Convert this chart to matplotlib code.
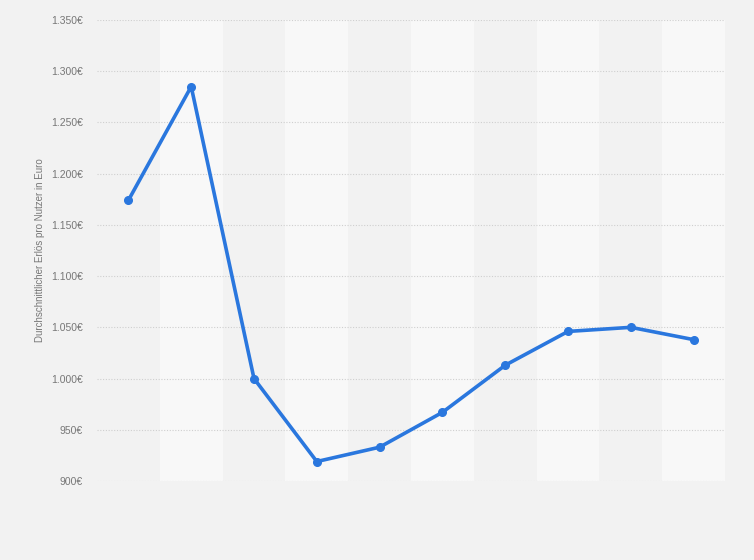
import matplotlib
matplotlib.use("Agg")
import matplotlib.pyplot as plt
from matplotlib.ticker import FuncFormatter

plt.rcParams["font.family"] = ["Liberation Sans", "DejaVu Sans"]

# durchschnittlicher Erlös pro Nutzer (keine x-Beschriftung im Original)
werte = [1174, 1285, 1000, 919, 933, 967, 1013, 1046, 1050, 1038]
y_ticks = [900, 950, 1000, 1050, 1100, 1150, 1200, 1250, 1300, 1350]
y_label = "Durchschnittlicher Erlös pro Nutzer in Euro"

fig = plt.figure(figsize=(7.54, 5.60), dpi=100)
fig.patch.set_facecolor("#f2f2f2")
ax = fig.add_axes([97 / 754, 79 / 560, 628 / 754, 461 / 560])
ax.set_facecolor("#f2f2f2")

n = len(werte)
xs = list(range(n))
for i in xs:
    if i % 2 == 1:
        ax.axvspan(i - 0.5, i + 0.5, color="#f8f8f8", zorder=0, lw=0)

for t in y_ticks:
    ax.axhline(t, color="#cfcfcf", lw=0.8, ls=(0, (1, 1.5)), zorder=1)

ax.plot(xs, werte, color="#2a77de", lw=2.6, marker="o", markersize=5.5,
        solid_joinstyle="round", zorder=3)

ax.set_xlim(-0.5, n - 0.5)
ax.set_ylim(900, 1350)
ax.set_yticks(y_ticks)
ax.yaxis.set_major_formatter(FuncFormatter(lambda v, p: f"{int(v):,}€".replace(",", ".")))
ax.set_xticks([])
ax.tick_params(axis="y", length=0, pad=10, labelsize=7.5, labelcolor="#777777")
for s in ax.spines.values():
    s.set_visible(False)

fig.text(40 / 754, 1 - 250 / 560, y_label, rotation=90, ha="center", va="center",
         fontsize=7, color="#777777")

fig.savefig("out.png", dpi=100, facecolor=fig.get_facecolor())
